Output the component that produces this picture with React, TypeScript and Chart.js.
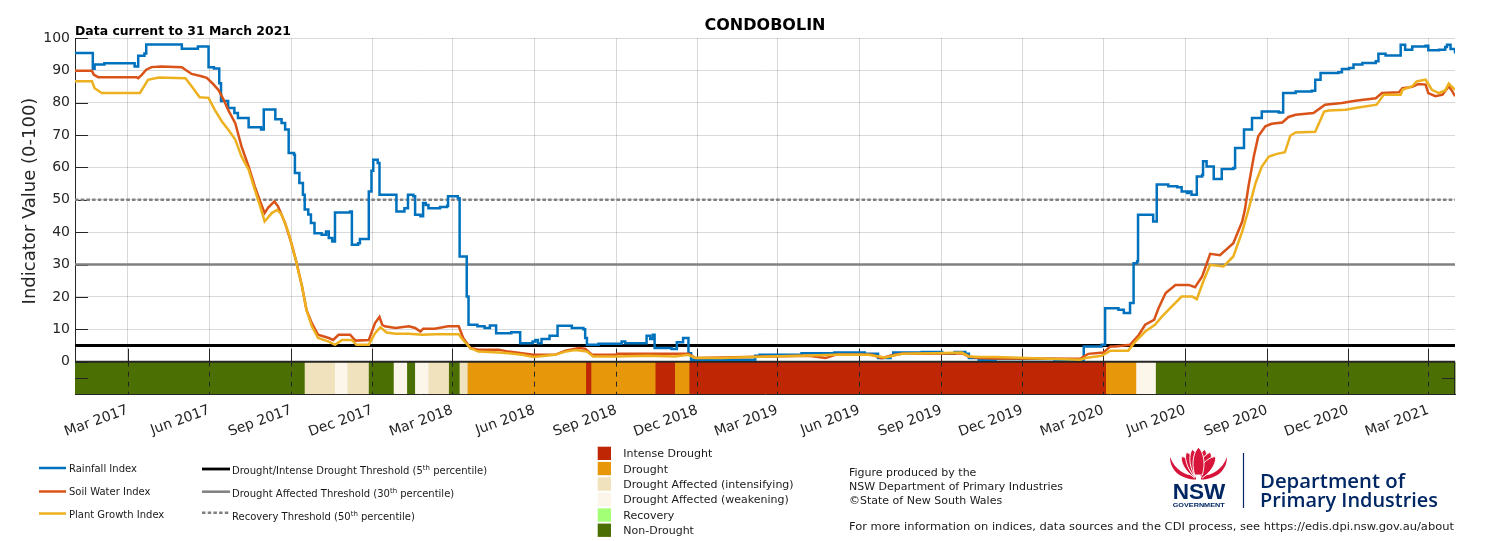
import React, { useEffect, useRef } from 'react';
import { Chart, registerables } from 'chart.js';

Chart.register(...registerables);

// x values are days since 1 January 2017 (axis runs to 31 March 2021)
const axisEndDay = 1550;

const rainDays = [0, 20, 22, 33, 67, 71, 78, 80, 120, 138, 150, 156, 162, 164, 172, 179, 183, 195, 209, 212, 225, 232, 236, 240, 246, 247, 252, 256, 258, 262, 265, 269, 277, 282, 285, 289, 292, 309, 311, 318, 320, 330, 333, 335, 340, 342, 361, 370, 374, 380, 382, 388, 391, 394, 397, 410, 418, 419, 430, 432, 440, 442, 452, 460, 466, 473, 490, 500, 514, 517, 520, 524, 533, 542, 558, 571, 573, 575, 588, 614, 618, 642, 646, 649, 651, 670, 676, 683, 689, 692, 764, 769, 816, 853, 887, 902, 916, 919, 951, 974, 988, 1000, 1004, 1015, 1034, 1100, 1133, 1153, 1157, 1172, 1178, 1185, 1189, 1193, 1194, 1211, 1215, 1228, 1238, 1243, 1249, 1251, 1254, 1260, 1266, 1267, 1271, 1279, 1288, 1301, 1303, 1313, 1322, 1333, 1352, 1357, 1371, 1389, 1393, 1399, 1419, 1423, 1431, 1436, 1446, 1461, 1464, 1472, 1487, 1489, 1494, 1502, 1517, 1520, 1532, 1539, 1541, 1545, 1550];
const rainValues = [95.4, 90.5, 91.8, 92.2, 91.2, 94.5, 95.2, 98, 96.7, 97.4, 91, 90.6, 86, 80.5, 78.4, 76.8, 75.3, 72.4, 71.7, 77.9, 74.9, 73.7, 71.7, 64.5, 63.9, 58.3, 55.2, 51.6, 47, 45.5, 42.8, 39.7, 39.2, 40.2, 38.2, 37.1, 46.1, 46.4, 36.1, 36.6, 37.9, 52.6, 59, 62.4, 61.4, 51.6, 46.4, 47.4, 51.6, 51.1, 45.4, 44.9, 49, 48.4, 47.4, 47.8, 48.2, 51.1, 50.5, 32.5, 20.1, 11.4, 10.9, 10.4, 11.2, 8.8, 9.1, 5.7, 6.2, 6.7, 5.7, 7, 8, 11.1, 10.4, 10, 7.3, 5.2, 5.5, 6.2, 5.7, 8, 7, 8.3, 4.2, 3.9, 6, 7.3, 2.6, 0.6, 1.8, 2.1, 2.6, 2.8, 2.4, 1.1, 1.8, 2.8, 3, 2.4, 3, 2.4, 1.1, 0.6, 0.8, 0.6, 4.7, 5.2, 16.5, 16, 15, 18.1, 30.4, 31, 45.4, 43.3, 54.7, 54.2, 53.9, 52.6, 52.1, 52.6, 51.6, 57.2, 57.7, 61.9, 60.3, 56.4, 59.5, 59.8, 66, 71.7, 75.3, 77.3, 77, 83, 83.5, 83.7, 87.1, 89.2, 89.4, 90.4, 90.7, 91.8, 92.3, 92.8, 95.1, 94.6, 94.6, 97.9, 96.4, 97.4, 97.6, 96.2, 96.4, 97.2, 97.9, 96.6, 95.2];

const soilDays = [0, 19, 21, 26, 69, 71, 75, 80, 86, 97, 120, 124, 131, 142, 148, 154, 161, 167, 172, 180, 187, 195, 202, 208, 213, 217, 224, 228, 236, 243, 249, 255, 260, 266, 273, 285, 290, 296, 309, 315, 330, 337, 342, 345, 348, 360, 375, 382, 388, 391, 404, 419, 431, 436, 444, 453, 476, 487, 502, 515, 539, 551, 566, 573, 581, 607, 609, 689, 697, 727, 779, 824, 843, 854, 895, 906, 921, 929, 959, 996, 1004, 1015, 1034, 1129, 1133, 1138, 1155, 1163, 1168, 1185, 1195, 1202, 1212, 1217, 1225, 1236, 1251, 1258, 1266, 1275, 1286, 1301, 1311, 1314, 1318, 1324, 1329, 1337, 1344, 1356, 1363, 1371, 1391, 1404, 1423, 1438, 1461, 1468, 1487, 1491, 1502, 1509, 1517, 1520, 1528, 1536, 1543, 1547, 1550];
const soilValues = [89.9, 89.9, 88.7, 87.9, 87.9, 87.6, 88.6, 90.2, 91, 91.2, 91, 90.2, 88.9, 88.2, 87.7, 86.1, 84, 80.9, 77.8, 73.7, 66.5, 60.3, 54.1, 49.5, 45.9, 47.6, 49.5, 48, 42.8, 36.6, 30.4, 23.2, 16, 11.9, 8.3, 7.3, 6.7, 8.3, 8.3, 6.5, 6.7, 11.9, 13.8, 11.4, 10.9, 10.4, 10.9, 10.4, 9.3, 10.2, 10.2, 10.9, 10.9, 7.3, 4.2, 3.7, 3.7, 3.1, 2.6, 2.1, 2.1, 3.4, 4.2, 4, 2.1, 2.1, 2.4, 2.4, 1.1, 1.3, 1.6, 1.8, 1.1, 2.1, 2.1, 1.1, 2.1, 2.4, 2.4, 2.6, 1.6, 1.1, 1.0, 0.9, 1.6, 2.4, 2.8, 4.7, 4.7, 5.2, 8.3, 11.4, 12.9, 16.5, 21.2, 23.7, 23.7, 23, 26.3, 33.3, 32.9, 36.6, 43.3, 46.9, 54.1, 63.4, 69.6, 72.7, 73.5, 73.9, 75.6, 76.3, 76.8, 79.4, 79.9, 80.6, 81.4, 83, 83.2, 84.5, 84.9, 85.8, 85.6, 83, 82, 82.5, 85.1, 83.5, 82];

const plantDays = [0, 19, 22, 30, 73, 82, 94, 124, 131, 140, 150, 157, 165, 172, 180, 187, 195, 202, 208, 213, 221, 227, 232, 240, 247, 255, 260, 266, 273, 285, 292, 300, 311, 316, 330, 337, 343, 350, 360, 375, 390, 405, 431, 434, 444, 453, 476, 487, 502, 515, 539, 551, 562, 575, 582, 607, 644, 674, 689, 697, 727, 779, 816, 854, 891, 910, 929, 966, 996, 1004, 1015, 1034, 1129, 1135, 1153, 1163, 1183, 1191, 1202, 1213, 1221, 1232, 1243, 1255, 1260, 1268, 1275, 1290, 1301, 1311, 1318, 1326, 1333, 1341, 1350, 1359, 1365, 1371, 1393, 1403, 1408, 1427, 1438, 1462, 1470, 1489, 1491, 1502, 1507, 1517, 1524, 1532, 1539, 1543, 1550];
const plantValues = [86.6, 86.6, 84.5, 83, 83, 87.1, 87.8, 87.6, 85.1, 81.7, 81.5, 77.8, 74.2, 71.7, 68.6, 63.4, 59.3, 53.1, 48, 43.3, 45.9, 46.9, 45.5, 39.7, 32.5, 23.2, 16, 10.9, 7.3, 6.2, 5.2, 6.7, 6.7, 5.2, 5.2, 8.8, 10.6, 9, 8.6, 8.6, 8.3, 8.5, 8.5, 7.3, 4.2, 3.1, 2.8, 2.6, 2.1, 1.4, 2.1, 3.1, 3.6, 3.1, 1.6, 1.6, 1.8, 1.6, 2.1, 1.1, 1.1, 1.6, 1.8, 2.1, 2.1, 1.3, 2.4, 2.6, 2.8, 1.6, 1.4, 1.4, 0.6, 1.1, 1.8, 3.4, 3.4, 6.2, 9.3, 11.4, 14, 17.1, 20.1, 20.1, 19.3, 25.3, 29.9, 29.4, 32.5, 40.2, 46.9, 55.2, 60.3, 63.4, 64.2, 64.7, 69.8, 70.8, 71, 77.3, 77.6, 77.8, 78.4, 79.4, 82.5, 82.5, 84, 85.1, 86.6, 87.1, 84, 83, 83.8, 85.9, 84];

// thresholds: intense drought (5th), drought affected (30th), recovery (50th)
const thresholdValues = [5, 30, 50];

const tickDays = [59, 151, 243, 334, 424, 516, 608, 699, 789, 881, 973, 1064, 1155, 1247, 1339, 1430, 1520];
const tickLabels = ['Mar 2017', 'Jun 2017', 'Sep 2017', 'Dec 2017', 'Mar 2018', 'Jun 2018', 'Sep 2018', 'Dec 2018', 'Mar 2019', 'Jun 2019', 'Sep 2019', 'Dec 2019', 'Mar 2020', 'Jun 2020', 'Sep 2020', 'Dec 2020', 'Mar 2021'];

const bandStarts = [0, 258, 292, 306, 330, 358, 373, 382, 397, 420, 432, 441, 574, 580, 652, 674, 690, 1158, 1192, 1214];
const bandLevels = ['Non-Drought', 'Intensifying', 'Weakening', 'Intensifying', 'Non-Drought', 'Weakening', 'Non-Drought', 'Weakening', 'Intensifying', 'Non-Drought', 'Intensifying', 'Drought', 'Intense Drought', 'Drought', 'Intense Drought', 'Drought', 'Intense Drought', 'Drought', 'Weakening', 'Non-Drought'];

const FONT = '"DejaVu Sans", sans-serif';
const AXIS_COLOR = '#262626';
const GRID_COLOR = 'rgba(0,0,0,0.15)';

const levelColors: Record<string, string> = {
  'Intense Drought': '#BF2604',
  'Drought': '#E6980A',
  'Intensifying': '#EFE2BD',
  'Weakening': '#FCF5EA',
  'Recovery': '#A3FF75',
  'Non-Drought': '#4B6F02',
};

const toXY = (days: number[], vals: number[]) => days.map((d, i) => ({ x: d, y: vals[i] }));

const bandPlugin = {
  id: 'droughtBand',
  beforeDatasetsDraw(chart: any) {
    const { ctx, chartArea, scales } = chart;
    const x = scales.x;
    const y = scales.y;
    const y0 = y.getPixelForValue(0);
    const yB = y.getPixelForValue(-10);
    ctx.save();
    bandStarts.forEach((s, i) => {
      const e = i < bandStarts.length - 1 ? bandStarts[i + 1] : axisEndDay;
      const x1 = x.getPixelForValue(s);
      const x2 = x.getPixelForValue(e);
      ctx.fillStyle = levelColors[bandLevels[i]];
      ctx.fillRect(x1, y0, x2 - x1 + 0.5, yB - y0);
    });
    ctx.strokeStyle = AXIS_COLOR;
    ctx.lineWidth = 1;
    ctx.setLineDash([5, 5]);
    tickDays.forEach((d) => {
      const px = Math.round(x.getPixelForValue(d)) + 0.5;
      ctx.beginPath();
      ctx.moveTo(px, y0);
      ctx.lineTo(px, yB);
      ctx.stroke();
    });
    ctx.setLineDash([]);
    tickDays.forEach((d) => {
      const px = Math.round(x.getPixelForValue(d)) + 0.5;
      ctx.beginPath();
      ctx.moveTo(px, y0 - 13);
      ctx.lineTo(px, y0);
      ctx.stroke();
    });
    for (let v = 0; v <= 100; v += 10) {
      const py = Math.round(y.getPixelForValue(v)) + 0.5;
      ctx.beginPath();
      ctx.moveTo(chartArea.left, py);
      ctx.lineTo(chartArea.left + 13, py);
      ctx.stroke();
    }
    const pm = Math.round(y.getPixelForValue(-5)) + 0.5;
    ctx.beginPath();
    ctx.moveTo(chartArea.left, pm);
    ctx.lineTo(chartArea.left + 13, pm);
    ctx.moveTo(chartArea.right - 13, pm);
    ctx.lineTo(chartArea.right, pm);
    ctx.stroke();
    ctx.beginPath();
    ctx.moveTo(chartArea.right - 0.5, y0);
    ctx.lineTo(chartArea.right - 0.5, yB);
    ctx.stroke();
    ctx.lineWidth = 2;
    ctx.beginPath();
    ctx.moveTo(chartArea.left, y0);
    ctx.lineTo(chartArea.right, y0);
    ctx.stroke();
    ctx.restore();
  },
};

function petalPath(cx: number, top: number, bottom: number, hw: number) {
  const mid = top + (bottom - top) * 0.5;
  return `M ${cx} ${top} C ${cx + hw * 0.6} ${top + 3} ${cx + hw * 1.2} ${mid} ${cx + hw * 0.6} ${bottom} L ${cx - hw * 0.6} ${bottom} C ${cx - hw * 1.2} ${mid} ${cx - hw * 0.6} ${top + 3} ${cx} ${top} Z`;
}

function Logo() {
  const red = '#D7153A';
  const navy = '#002664';
  const fan = [-40, -26, -13, 0, 13, 26, 40];
  return (
    <g transform="translate(1165,444)">
      <path d="M 5 13 C 5 28 18 35.5 31 35.5 L 31 32 C 20 31.5 10 26 5 13 Z" fill={red} />
      <path d="M 62 13 C 62 28 49 35.5 36 35.5 L 36 32 C 47 31.5 57 26 62 13 Z" fill={red} />
      {fan.map((a) => (
        <path key={a} d={petalPath(33.5, 4 + Math.abs(a) * 0.06, 31, 6)} fill={red} stroke="#fff" strokeWidth={0.9} transform={`rotate(${a} 33.5 33)`} />
      ))}
      <path d={petalPath(33.5, 3.5, 31, 6.5)} fill={red} stroke="#fff" strokeWidth={0.9} />
      <text x={7.7} y={55.3} fontFamily='"Liberation Sans", Arial, sans-serif' fontWeight="bold" fontSize={22.5} fill={navy} textLength={52.6} lengthAdjust="spacingAndGlyphs">NSW</text>
      <text x={7.7} y={63.4} fontFamily='"Liberation Sans", Arial, sans-serif' fontWeight="bold" fontSize={6.2} fill={navy} textLength={52} lengthAdjust="spacingAndGlyphs">GOVERNMENT</text>
    </g>
  );
}

export default function App() {
  const canvasRef = useRef<HTMLCanvasElement | null>(null);

  useEffect(() => {
    const canvas = canvasRef.current;
    if (!canvas) return;
    const thresholdStyles = [
      { color: '#000000', width: 3, dash: [] as number[] },
      { color: '#808080', width: 2.5, dash: [] as number[] },
      { color: '#808080', width: 2.5, dash: [3.5, 2.2] },
    ];
    const chart = new Chart(canvas, {
      type: 'line',
      data: {
        datasets: [
          { label: 'Plant Growth Index', data: toXY(plantDays, plantValues), borderColor: '#EDB120', borderWidth: 2.5, pointRadius: 0, order: 1 },
          { label: 'Soil Water Index', data: toXY(soilDays, soilValues), borderColor: '#D95319', borderWidth: 2.5, pointRadius: 0, order: 2 },
          { label: 'Rainfall Index', data: toXY(rainDays, rainValues), borderColor: '#0072BD', borderWidth: 2.5, pointRadius: 0, stepped: 'before', order: 3 },
          ...thresholdValues.map((v, i) => ({
            label: 'threshold ' + v,
            data: [{ x: 0, y: v }, { x: axisEndDay, y: v }],
            borderColor: thresholdStyles[i].color,
            borderWidth: thresholdStyles[i].width,
            borderDash: thresholdStyles[i].dash,
            pointRadius: 0,
            order: 4 + i,
          })),
        ] as any,
      },
      options: {
        animation: false,
        responsive: false,
        maintainAspectRatio: false,
        layout: { padding: { left: 0, right: 45, top: 38, bottom: 87 } },
        plugins: { legend: { display: false }, tooltip: { enabled: false }, title: { display: false } },
        scales: {
          x: {
            type: 'linear',
            min: 0,
            max: axisEndDay,
            afterBuildTicks: (s: any) => { s.ticks = tickDays.map((v) => ({ value: v })); },
            afterFit: (s: any) => { s.height = 60; },
            ticks: {
              autoSkip: false,
              minRotation: 20,
              maxRotation: 20,
              padding: 8,
              color: AXIS_COLOR,
              font: { family: FONT, size: 14 },
              callback: (v: any) => { const i = tickDays.indexOf(Number(v)); return i >= 0 ? tickLabels[i] : ''; },
            },
            grid: { color: GRID_COLOR, drawTicks: false, lineWidth: 1 },
            border: { display: true, color: AXIS_COLOR, width: 1 },
          },
          y: {
            min: -10,
            max: 100,
            afterFit: (s: any) => { s.width = 75; },
            ticks: {
              stepSize: 10,
              padding: 5,
              color: AXIS_COLOR,
              font: { family: FONT, size: 14 },
              callback: (v: any) => (Number(v) >= 0 ? String(v) : ''),
            },
            grid: {
              color: (c: any) => (c.tick && c.tick.value < 0 ? 'rgba(0,0,0,0)' : GRID_COLOR),
              drawTicks: false,
              lineWidth: 1,
            },
            border: { display: true, color: AXIS_COLOR, width: 1 },
          },
        },
      } as any,
      plugins: [bandPlugin],
    });
    return () => chart.destroy();
  }, []);

  const txt = '#1a1a1a';
  const legendLines = [
    { label: 'Rainfall Index', color: '#0072BD', y: 468, b: 471.7 },
    { label: 'Soil Water Index', color: '#D95319', y: 491.5, b: 495 },
    { label: 'Plant Growth Index', color: '#EDB120', y: 513.5, b: 517.7 },
  ];
  const catRows = ['Intense Drought', 'Drought', 'Intensifying', 'Weakening', 'Recovery', 'Non-Drought'];
  const catLabels = ['Intense Drought', 'Drought', 'Drought Affected (intensifying)', 'Drought Affected (weakening)', 'Recovery', 'Non-Drought'];
  const catCenters = [453.3, 468.5, 484, 499.3, 515, 530.2];

  return (
    <div style={{ position: 'absolute', left: 0, top: 0, width: 1500, height: 541, background: '#fff' }}>
      <canvas ref={canvasRef} width={1500} height={541} style={{ position: 'absolute', left: 0, top: 0 }} />
      <svg width={1500} height={541} style={{ position: 'absolute', left: 0, top: 0, pointerEvents: 'none' }} fontFamily={FONT}>
        <text x={75} y={35} fontSize={12.5} fontWeight="bold" fill="#000" textLength={216} lengthAdjust="spacingAndGlyphs">Data current to 31 March 2021</text>
        <text x={765} y={30} fontSize={16} fontWeight="bold" fill="#000" textAnchor="middle">CONDOBOLIN</text>
        <text transform="translate(35,201) rotate(-90)" fontSize={18} fill={AXIS_COLOR} textAnchor="middle">Indicator Value (0-100)</text>

        {legendLines.map((l) => (
          <g key={l.label}>
            <line x1={39} x2={66} y1={l.y} y2={l.y} stroke={l.color} strokeWidth={2.5} />
            <text x={69} y={l.b} fontSize={10} fill={txt}>{l.label}</text>
          </g>
        ))}

        <line x1={202} x2={230} y1={469} y2={469} stroke="#000" strokeWidth={2.8} />
        <line x1={202} x2={230} y1={491.7} y2={491.7} stroke="#808080" strokeWidth={2.5} />
        <line x1={202} x2={230} y1={512.7} y2={512.7} stroke="#808080" strokeWidth={2.5} strokeDasharray="3.5 2.2" />
        <text x={232} y={473.7} fontSize={10} fill={txt}>Drought/Intense Drought Threshold (5<tspan fontSize={7} dy={-4}>th</tspan><tspan dy={4}> percentile)</tspan></text>
        <text x={232} y={496.7} fontSize={10} fill={txt}>Drought Affected Threshold (30<tspan fontSize={7} dy={-4}>th</tspan><tspan dy={4}> percentile)</tspan></text>
        <text x={232} y={520} fontSize={10} fill={txt}>Recovery Threshold (50<tspan fontSize={7} dy={-4}>th</tspan><tspan dy={4}> percentile)</tspan></text>

        {catRows.map((k, i) => (
          <g key={k}>
            <rect x={597.7} y={catCenters[i] - 6.6} width={13.3} height={13.3} fill={levelColors[k]} />
            <text x={623.3} y={catCenters[i] + 4} fontSize={11} fill={txt}>{catLabels[i]}</text>
          </g>
        ))}

        <text x={849} y={476} fontSize={11} fill={txt}>Figure produced by the</text>
        <text x={849} y={490} fontSize={11} fill={txt}>NSW Department of Primary Industries</text>
        <text x={849} y={504} fontSize={11} fill={txt}>©State of New South Wales</text>
        <text x={849} y={530} fontSize={11} fill={txt} textLength={605} lengthAdjust="spacingAndGlyphs">For more information on indices, data sources and the CDI process, see https://edis.dpi.nsw.gov.au/about</text>

        <Logo />
        <line x1={1243.5} x2={1243.5} y1={453} y2={508} stroke="#002664" strokeWidth={1.2} />
        <text x={1260} y={488.3} fontFamily='"Open Sans", sans-serif' fontWeight={600} fontSize={19.5} fill="#002664" textLength={145} lengthAdjust="spacingAndGlyphs">Department of</text>
        <text x={1260} y={506.7} fontFamily='"Open Sans", sans-serif' fontWeight={600} fontSize={19.5} fill="#002664" textLength={178} lengthAdjust="spacingAndGlyphs">Primary Industries</text>
      </svg>
    </div>
  );
}
